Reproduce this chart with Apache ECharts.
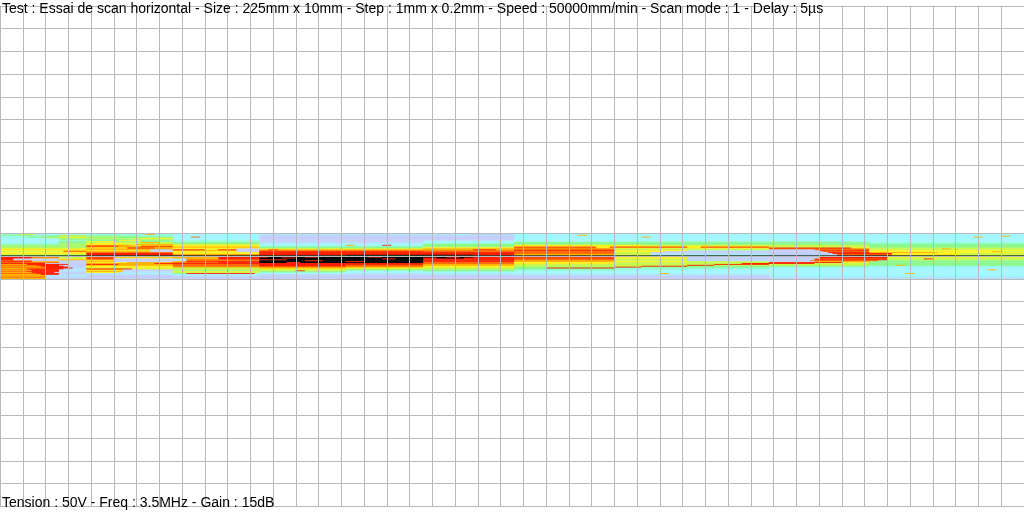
<!DOCTYPE html>
<html><head><meta charset="utf-8">
<script src="https://cdn.jsdelivr.net/npm/echarts@6/dist/echarts.min.js"></script>
<style>html,body{margin:0;padding:0;background:#fff}#c{width:1024px;height:512px}</style>
</head><body><div id="c"></div>
<script>
const titleTop = 'Test : Essai de scan horizontal - Size : 225mm x 10mm - Step : 1mm x 0.2mm - Speed : 50000mm/min - Scan mode : 1 - Delay : 5µs';
const titleBottom = 'Tension : 50V - Freq : 3.5MHz - Gain : 15dB';
const scanLengthMm = 225;
const scanColumns = 225;
const scanRows = 50;
const gridStepMm = 5;
// amplitude level -> colour (0 lowest ... 10 saturated)
const levelColors = ['#c4cffa','#b2e3ff','#a2f6ff','#92fcd6','#8cf88e','#c8f850','#fff020','#ffb000','#ff6a00','#ff1e00','#000000'];
// one string per scan row (top to bottom), run-length coded "level:count" along the 225 columns
const rowRuns = [
"2:2 8:2 9:3 7:2 3:4 4:6 2:13 3:5 2:20 1:43 2:3 0:10 2:112",
"3:4 5:4 2:11 3:13 7:2 3:4 2:19 1:43 2:3 0:10 2:112",
"4:7 3:6 5:6 3:19 2:19 1:56 2:14 7:2 2:96",
"3:9 4:10 4:11 3:8 2:19 0:56 2:107 7:2 2:3",
"2:6 4:7 6:6 5:7 4:12 2:4 8:2 2:13 0:56 2:28 7:2 2:71 7:2 2:9",
"3:10 5:9 4:12 5:7 2:19 0:56 2:112",
"2:13 4:6 5:10 6:9 2:19 0:56 2:112",
"2:13 4:6 4:19 2:19 0:56 2:112",
"2:13 3:6 4:7 6:5 4:7 3:19 0:36 1:20 2:112",
"2:13 4:6 6:6 4:13 3:19 0:36 2:20 3:28 3:50 2:34",
"2:13 4:6 5:12 7:4 5:3 4:19 1:36 2:20 4:78 3:34",
"3:13 4:6 6:8 5:11 4:19 1:19 1:17 3:20 4:78 3:34",
"3:13 5:6 6:11 7:8 5:19 2:19 2:17 4:20 4:78 4:34",
"4:19 7:10 6:9 6:19 2:19 7:2 2:6 9:2 2:7 4:20 6:28 5:28 5:22 4:34",
"5:19 9:7 7:5 9:7 6:19 3:19 3:17 4:20 6:28 6:28 5:22 4:34",
"4:19 7:19 7:19 4:19 4:17 5:20 9:18 6:3 9:17 6:3 9:15 5:16 5:6 4:34",
"5:19 6:9 9:6 7:4 6:19 4:19 4:17 6:20 7:18 6:38 9:18 6:4 5:34",
"6:19 7:19 6:14 0:5 6:19 6:17 7:20 8:22 5:34 8:22 5:16 7:2 5:16",
"6:19 7:14 0:5 9:7 6:3 9:4 0:5 7:2 9:2 7:15 7:17 7:11 9:5 7:4 8:22 5:34 0:10 8:12 5:34",
"6:14 7:5 6:14 0:5 7:14 0:5 8:19 8:17 8:20 9:22 6:16 1:18 0:11 9:11 6:34",
"5:14 8:5 7:14 0:5 6:14 0:5 9:19 9:17 8:20 8:22 6:11 0:23 0:12 8:10 6:27 7:2 5:5",
"6:19 8:19 6:19 9:19 9:17 9:20 8:22 5:8 0:26 0:13 9:9 7:15 6:19",
"6:19 9:19 6:19 9:19 9:17 9:20 8:22 5:8 1:26 0:14 9:13 6:15 5:14",
"5:19 9:19 7:19 9:19 9:17 9:20 7:22 5:8 1:26 0:15 8:12 6:15 5:14",
"5:19 9:19 8:19 9:19 B:17 B:11 9:9 7:22 6:8 1:26 0:15 9:12 7:14 6:15",
"6:19 9:19 9:19 B:19 B:17 9:20 8:22 6:8 1:26 0:15 9:12 6:29",
"9:7 8:6 5:6 9:6 7:13 7:10 9:9 9:2 B:8 9:3 B:6 B:5 9:3 B:9 B:5 9:3 B:3 9:9 8:22 6:16 1:18 0:11 9:15 6:30",
"9:7 7:6 5:6 8:6 6:13 7:10 9:9 B:5 9:3 B:11 B:17 9:3 B:6 9:11 9:22 6:16 0:18 0:11 9:15 5:30",
"9:3 0:10 6:6 9:6 0:13 1:3 7:7 9:9 B:19 B:8 9:3 B:6 9:20 8:22 5:16 0:18 0:10 8:16 5:8 9:2 5:20",
"9:3 0:10 7:6 7:6 0:13 1:3 8:16 9:6 B:13 B:17 9:20 8:22 5:16 0:18 0:10 9:16 5:30",
"8:7 0:6 0:6 6:6 0:13 1:3 8:16 B:10 9:4 B:5 B:17 9:20 7:22 5:16 1:18 0:9 8:15 4:32",
"9:7 7:6 0:6 7:6 0:13 7:3 9:16 B:19 9:4 B:13 9:20 7:22 6:16 5:18 0:10 7:12 4:34",
"8:13 0:6 6:9 7:10 8:10 9:9 B:6 9:3 B:10 B:17 8:20 6:22 5:16 5:18 9:16 6:6 4:34",
"9:10 0:9 7:15 9:4 9:19 9:19 9:17 8:20 6:22 5:16 5:12 9:6 9:10 5:12 4:34",
"7:6 9:9 0:4 9:7 7:12 8:19 9:19 9:17 7:20 5:22 5:16 5:6 9:12 5:22 4:34",
"8:8 9:5 0:6 7:19 8:19 9:19 8:17 7:20 5:22 5:16 9:6 5:12 5:22 4:6 7:2 4:26",
"7:9 9:5 0:5 6:19 8:19 9:19 8:17 6:20 5:22 5:6 9:10 4:18 4:22 3:34",
"8:10 9:5 0:4 6:19 7:19 7:19 7:17 6:20 4:22 9:6 4:10 4:18 3:22 2:34",
"7:10 9:6 1:3 5:19 5:19 7:19 6:17 5:20 4:7 9:15 3:16 3:18 2:22 2:34",
"7:6 9:8 1:5 9:10 6:9 5:19 6:19 5:17 5:20 4:22 3:16 3:18 2:22 2:34",
"8:7 9:6 1:6 7:8 0:11 5:19 5:19 4:17 4:20 3:22 3:16 2:18 2:48 7:2 2:6",
"7:7 9:6 1:6 6:8 0:11 4:19 5:8 9:2 5:9 3:17 4:20 3:22 2:34 2:56",
"8:6 9:7 1:6 7:8 1:11 6:19 4:19 2:17 3:20 2:22 2:90",
"7:7 9:5 0:7 6:7 1:12 5:19 3:19 2:17 2:20 2:112",
"8:8 9:5 0:6 1:8 2:11 4:3 9:15 2:20 1:17 2:20 2:32 7:2 2:52 7:2 2:24",
"7:9 9:4 1:6 1:19 2:19 1:36 1:20 1:56 2:56",
"7:10 1:9 0:19 1:19 0:56 1:56 2:56",
"7:10 1:9 0:19 1:19 0:56 0:56 2:56",
"8:10 1:9 0:38 0:56 0:56 1:56",
"7:10 0:9 0:38 0:56 0:56 1:56"
];
const centerLineMm = [[0, 0], [scanLengthMm, 0]];

function decodeRow(s) {
  const out = [];
  s.trim().split(/\s+/).forEach(t => {
    const p = t.split(':');
    const v = p[0] === 'B' ? 10 : Number(p[0]);
    for (let i = 0; i < Number(p[1]); i++) out.push(v);
  });
  return out.slice(0, scanColumns);
}
const cells = [];
rowRuns.forEach((s, r) => decodeRow(s).forEach((v, c) => cells.push([c, r, v])));
const xCats = Array.from({length: scanColumns}, (_, i) => String(i));
const yCats = Array.from({length: scanRows}, (_, i) => String(i));

const chart = echarts.init(document.getElementById('c'), null, {renderer: 'canvas'});
const hiddenAxis = {axisLine: {show: false}, axisTick: {show: false}, axisLabel: {show: false}};
chart.setOption({
  animation: false,
  backgroundColor: '#ffffff',
  grid: [
    {left: 0, right: 0, top: 5.75, bottom: 5.75},
    {left: 0, right: 0, top: 233.25, height: 45.5}
  ],
  xAxis: [
    Object.assign({type: 'value', gridIndex: 0, min: 0, max: scanLengthMm, interval: gridStepMm, z: 10,
      splitLine: {show: true, lineStyle: {color: '#b9b9b9', width: 1}}}, hiddenAxis),
    {type: 'category', gridIndex: 1, data: xCats, show: false}
  ],
  yAxis: [
    Object.assign({type: 'value', gridIndex: 0, min: -55, max: 55, interval: gridStepMm, z: 10,
      splitLine: {show: true, lineStyle: {color: '#b9b9b9', width: 1}}}, hiddenAxis),
    {type: 'category', gridIndex: 1, data: yCats, inverse: true, show: false}
  ],
  visualMap: {show: false, type: 'continuous', min: 0, max: 10, seriesIndex: 0, inRange: {color: levelColors}},
  series: [
    {type: 'heatmap', xAxisIndex: 1, yAxisIndex: 1, data: cells, progressive: 0, emphasis: {disabled: true}, silent: true},
    {type: 'line', xAxisIndex: 0, yAxisIndex: 0, data: centerLineMm, symbol: 'none', z: 5, silent: true,
      lineStyle: {color: 'rgba(30,70,50,0.78)', width: 2}}
  ],
  graphic: [
    {type: 'text', left: 2, top: 2, z: 100, style: {text: titleTop, font: '14px "Liberation Sans", Arial, sans-serif', fill: '#000'}},
    {type: 'text', left: 2, top: 496, z: 100, style: {text: titleBottom, font: '14px "Liberation Sans", Arial, sans-serif', fill: '#000'}}
  ]
});
</script>
</body></html>
